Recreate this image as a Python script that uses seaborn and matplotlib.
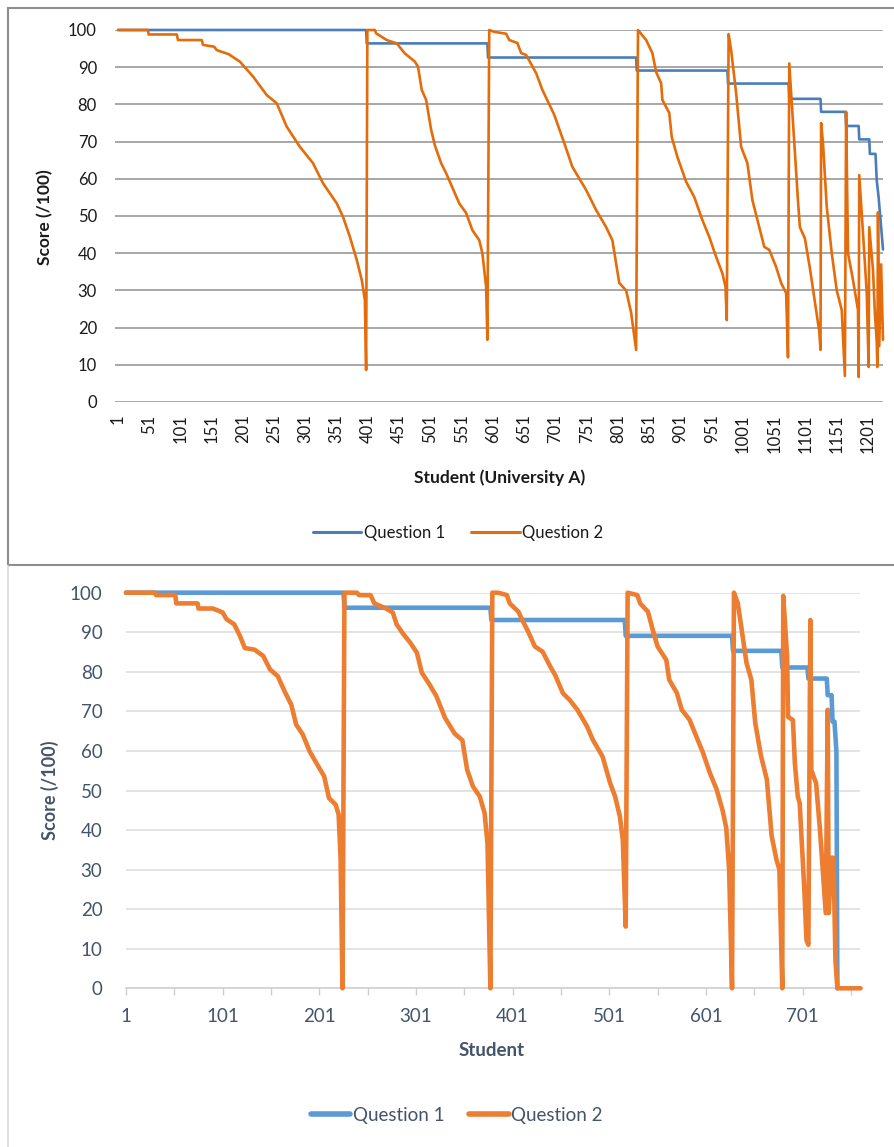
import matplotlib
matplotlib.use("Agg")
import matplotlib.pyplot as plt
import seaborn as sns
import pandas as pd
from matplotlib.patches import Rectangle
from matplotlib.lines import Line2D

# ---- Top chart: University A ----
a_q1_x = [1, 398, 399, 592, 593, 830, 831, 976, 977, 1074, 1075, 1125, 1126, 1165, 1166,
          1186, 1187, 1203, 1204, 1213, 1215, 1218, 1225]
a_q1_y = [100, 100, 96.4, 96.4, 92.6, 92.6, 89.1, 89.1, 85.6, 85.6, 81.5, 81.5, 78, 78, 74.2,
          74.2, 70.6, 70.6, 66.7, 66.7, 59.5, 55, 41]

a_q2_x = [1, 49, 50, 95, 97, 135, 137, 155, 159, 178, 196, 217, 239, 255, 271, 292, 313, 329,
          351, 361, 372, 383, 391, 396, 398,
          400, 412, 414, 431, 447, 460, 476, 481, 487, 494, 502, 508, 518, 526, 547, 558, 568,
          579, 584, 590, 592,
          595, 603, 622, 627, 640, 646, 654, 670, 680, 699, 715, 728, 750, 766, 782, 792, 803,
          814, 822, 830,
          833, 846, 856, 862, 870, 872, 883, 887, 896, 910, 923, 936, 947, 958, 968, 973, 975,
          978, 982, 990, 998, 1008, 1016, 1027, 1035, 1043, 1054, 1062, 1070, 1073,
          1075, 1081, 1089, 1092, 1100, 1108, 1116, 1123, 1125,
          1126, 1129, 1135, 1143, 1151, 1159, 1164,
          1166, 1169, 1177, 1185, 1186,
          1187, 1193, 1199, 1202,
          1203, 1209, 1212, 1215, 1216,
          1217, 1219, 1222, 1225]
a_q2_y = [100, 100, 98.8, 98.8, 97.3, 97.3, 96, 95.5, 94.6, 93.5, 91.5, 87.5, 82.5, 80.3, 74,
          68.6, 64.2, 58.8, 53.4, 49.8, 44.4, 38.2, 32.8, 27.4, 8.6,
          100, 100, 99.1, 97.3, 96.4, 93.7, 91.5, 90.1, 83.9, 81.2, 73.2, 69, 64.2, 61.5, 53.4,
          50.8, 46.2, 43.5, 40, 31, 16.7,
          100, 99.5, 99, 97.3, 96.5, 93.8, 93.3, 88.4, 83.9, 77.2, 69.6, 63.2, 57, 51.6, 47,
          43.5, 32, 30, 24, 14,
          100, 97.3, 93.8, 88.7, 85.7, 81.2, 77.7, 71.2, 65.9, 59.2, 55.1, 48.9, 44.4, 39, 34.6,
          31, 22,
          98.9, 94.6, 83, 68.6, 64.2, 54.3, 47, 41.7, 40.9, 36.3, 32, 29.3, 12,
          91, 75, 54, 47, 44, 36, 27, 19, 14,
          75, 69.6, 52.5, 40, 30, 24.7, 7,
          78, 40, 32.8, 24.7, 6.7,
          61, 45.4, 29.3, 9.4,
          47, 35.5, 24, 16, 9.4,
          51, 15, 37, 16.7]

a_ticks = list(range(1, 1202, 50))

# ---- Bottom chart ----
b_q1_x = [1, 226, 227, 378, 379, 517, 518, 628, 629, 679, 680, 706, 707, 726, 727, 731, 732,
          734, 736, 737]
b_q1_y = [100, 100, 96.2, 96.2, 93.1, 93.1, 89.1, 89.1, 85.3, 85.3, 81.1, 81.1, 78.3, 78.3,
          74.1, 74.1, 67.4, 67.4, 59.8, 0]

b_q2_x = [1, 31, 32, 52, 53, 75, 76, 91, 101, 105, 113, 119, 124, 134, 143, 150, 158, 165, 172,
          177, 184, 191, 199, 206, 211, 218, 221, 223, 225,
          227, 240, 242, 254, 258, 270, 277, 281, 288, 295, 302, 307, 315, 322, 331, 341, 349,
          354, 360, 367, 372, 375, 378,
          380, 386, 395, 398, 407, 411, 417, 424, 432, 440, 445, 453, 460, 468, 478, 484, 494,
          502, 507, 512, 515, 518,
          520, 530, 533, 541, 546, 551, 560, 563, 571, 576, 584, 591, 598, 605, 612, 618, 622,
          625, 628,
          630, 634, 638, 643, 648, 652, 658, 664, 669, 674, 677, 680,
          681, 685, 686, 691, 693, 696, 698, 703, 705, 707,
          709, 710, 715, 719, 725,
          727, 728, 731, 733, 735, 737, 761]
b_q2_y = [100, 100, 99.4, 99.4, 97.3, 97.3, 96, 96, 95, 93.3, 92, 89, 86, 85.6, 84, 80.6, 78.9,
          75.1, 71.7, 66.7, 64.1, 59.9, 56.5, 53.6, 48.1, 46.4, 43.9, 33, 0,
          100, 100, 99.4, 99.4, 97.3, 96, 95, 92, 89.5, 87.4, 84.8, 79.8, 76.8, 73.9, 68.4, 64.4,
          62.7, 55.2, 51, 48.5, 44.3, 36.7, 0,
          100, 100, 99.4, 97.3, 95.2, 93.1, 90.2, 86.4, 85.1, 81.3, 79.2, 74.6, 72.9, 70.4, 66.2,
          62.8, 58.6, 51.8, 48.5, 43.4, 37.5, 15.6,
          100, 99.4, 97.3, 95.2, 90.6, 86.4, 83, 78, 74.6, 70.4, 67.9, 63.7, 59.5, 54.5, 50.3,
          45.2, 40.6, 30, 0,
          100, 97.3, 90.6, 82.2, 78, 67.1, 58.7, 52.8, 38.5, 32.5, 30, 0,
          99.2, 83.8, 68.6, 67.8, 56.9, 48.5, 46.8, 24, 12.2, 11,
          93.1, 55.2, 51.8, 40, 19,
          70.4, 19, 33, 33, 7, 0, 0]

b_major = list(range(1, 702, 100))
b_minor = list(range(51, 752, 100))

sns.set_theme(style="white")
plt.rcParams['font.family'] = ['Lato', 'DejaVu Sans']

W, H = 895, 1147
fig = plt.figure(figsize=(W / 100, H / 100), dpi=100)


def box(l, t, r, b):
    return [l / W, 1 - b / H, (r - l) / W, (b - t) / H]


# panel frames
fig.patches.append(Rectangle((8 / W, 1 - 565 / H), 900 / W, 557 / H, transform=fig.transFigure,
                             fill=False, edgecolor='#8e8e8e', lw=1.5))
fig.add_artist(Line2D([8 / W, 8 / W], [0, 1 - 566 / H], transform=fig.transFigure,
                      color='#d9d9d9', lw=1.2))

# ---------------- top chart ----------------
ax1 = fig.add_axes(box(115, 30, 883, 402))
sns.lineplot(x=a_q1_x, y=a_q1_y, ax=ax1, color='#4a7ebb', lw=1.9, estimator=None, sort=False,
             clip_on=False, zorder=3)
sns.lineplot(x=a_q2_x, y=a_q2_y, ax=ax1, color='#e46c0a', lw=1.9, estimator=None, sort=False,
             clip_on=False, zorder=4)
ax1.set_xlim(-3.8, 1225)
ax1.set_ylim(0, 100)
ax1.set_yticks(range(0, 101, 10))
ax1.set_xticks(a_ticks)
ax1.set_xticklabels([str(t) for t in a_ticks], rotation=90, fontsize=12)
ax1.tick_params(axis='y', length=0, pad=13, labelsize=12, labelcolor='#1a1a1a')
ax1.tick_params(axis='x', length=0, pad=9, labelcolor='#1a1a1a')
ax1.grid(axis='y', color='#a0a0a0', lw=1.3)
ax1.set_axisbelow(True)
for s in ax1.spines.values():
    s.set_visible(False)
ax1.set_xlabel('')
ax1.set_ylabel('')
fig.text(45 / W, 1 - 217 / H, 'Score (/100)', rotation=90, ha='center', va='center',
         fontsize=12.5, fontweight='bold', color='#1a1a1a')
fig.text(500 / W, 1 - 478 / H, 'Student (University A)', ha='center', va='center',
         fontsize=12.5, fontweight='bold', color='#1a1a1a')
h1 = [Line2D([], [], color='#4a7ebb', lw=2.2), Line2D([], [], color='#e46c0a', lw=2.2)]
fig.legend(h1, ['Question 1', 'Question 2'], loc='center', bbox_to_anchor=(458 / W, 1 - 533 / H),
           ncol=2, frameon=False, fontsize=12, handlelength=2.9, handletextpad=0.15,
           columnspacing=1.6, labelcolor='#1a1a1a')

# ---------------- bottom chart ----------------
slate = '#44546a'
ax2 = fig.add_axes(box(126, 592.7, 860, 988.3))
sns.lineplot(x=b_q1_x, y=b_q1_y, ax=ax2, color='#5b9bd5', lw=3.3, estimator=None, sort=False,
             clip_on=False, zorder=3)
sns.lineplot(x=b_q2_x, y=b_q2_y, ax=ax2, color='#ed7d31', lw=3.3, estimator=None, sort=False,
             clip_on=False, zorder=4)
ax2.set_xlim(1, 760.4)
ax2.set_ylim(0, 100)
ax2.set_yticks(range(0, 101, 10))
ax2.set_xticks(b_major)
ax2.set_xticks(b_minor, minor=True)
ax2.set_xticklabels([str(t) for t in b_major])
ax2.tick_params(axis='y', length=0, pad=17, labelsize=13.5, labelcolor=slate)
ax2.tick_params(axis='x', which='both', length=5, width=1, color='#cfcfcf', direction='out',
                pad=9, labelsize=13.5, labelcolor=slate, bottom=True)
ax2.grid(axis='y', color='#dedede', lw=1.2)
ax2.set_axisbelow(True)
for k, s in ax2.spines.items():
    s.set_visible(k == 'bottom')
ax2.spines['bottom'].set_color('#d0d0d0')
ax2.spines['bottom'].set_linewidth(1.2)
ax2.set_xlabel('')
ax2.set_ylabel('')
fig.text(50 / W, 1 - 790 / H, 'Score (/100)', rotation=90, ha='center', va='center',
         fontsize=13, fontweight='bold', color=slate)
fig.text(492 / W, 1 - 1050 / H, 'Student', ha='center', va='center',
         fontsize=13.5, fontweight='bold', color=slate)
h2 = [Line2D([], [], color='#5b9bd5', lw=4, solid_capstyle='round'),
      Line2D([], [], color='#ed7d31', lw=4, solid_capstyle='round')]
fig.legend(h2, ['Question 1', 'Question 2'], loc='center', bbox_to_anchor=(457 / W, 1 - 1115 / H),
           ncol=2, frameon=False, fontsize=13.5, handlelength=2.1, handletextpad=0.15,
           columnspacing=1.3, labelcolor=slate)

fig.savefig('out.png', dpi=100)
